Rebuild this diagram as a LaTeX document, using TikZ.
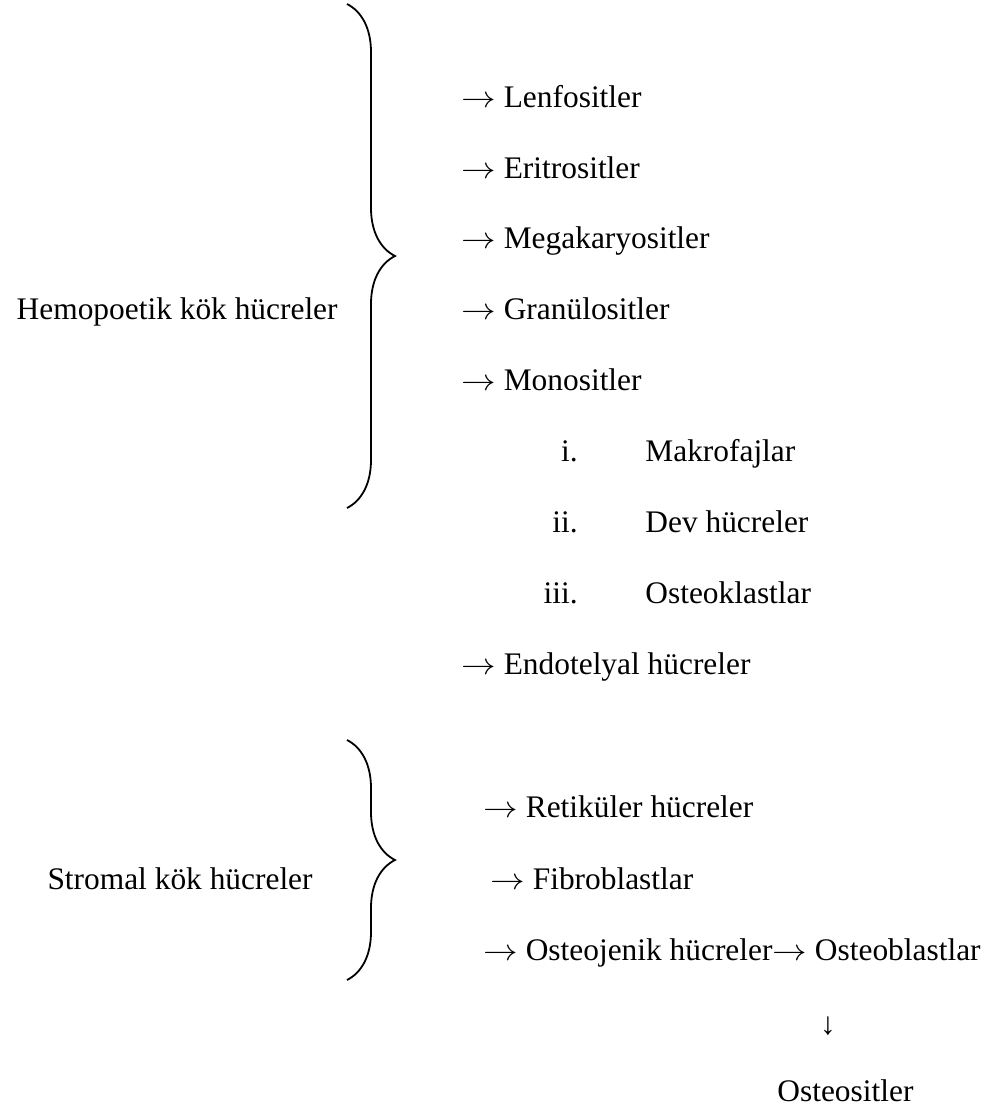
\documentclass[tikz,border=0pt]{standalone}
\usepackage{graphicx}
\usepackage{fontspec}
\setmainfont{Liberation Serif}
\usetikzlibrary{decorations.pathreplacing}
\newcommand{\ra}{\scalebox{1.2}[1.05]{$\rightarrow$}}

\begin{document}
\begin{tikzpicture}[
  x=0.5pt, y=-0.5pt,
  font=\fontsize{15.7pt}{19pt}\selectfont,
  item/.style  = {inner sep=0pt, anchor=base west},
  src/.style   = {inner sep=0pt, anchor=base east},
  num/.style   = {inner sep=0pt, anchor=base east},
  brc/.style   = {decorate, decoration={brace, amplitude=24pt},
                  line width=0.9pt}
]
\useasboundingbox (0,0) rectangle (990,1110);

% hemopoetic group
\node[src] (hemo) at (338,319) {Hemopoetik kök hücreler};
\coordinate (hemotop) at (347,4);
\coordinate (hemobot) at (347,508);
\draw[brc] (hemotop) -- (hemobot);

\node[item] (lenf) at (461,107) {\ra{} Lenfositler};
\node[item] (erit) at (461,178) {\ra{} Eritrositler};
\node[item] (mega) at (461,248) {\ra{} Megakaryositler};
\node[item] (gran) at (461,319) {\ra{} Granülositler};
\node[item] (mono) at (461,390) {\ra{} Monositler};

\node[num]  (n1) at (578,461) {i.};
\node[item] (makro) at (645,461) {Makrofajlar};
\node[num]  (n2) at (578,532) {ii.};
\node[item] (dev) at (645,532) {Dev hücreler};
\node[num]  (n3) at (578,603) {iii.};
\node[item] (oklast) at (645,603) {Osteoklastlar};

\node[item] (endo) at (461,674) {\ra{} Endotelyal hücreler};

% stromal group
\node[src] (strom) at (313,889) {Stromal kök hücreler};
\coordinate (stromtop) at (347,740);
\coordinate (strombot) at (347,980);
\draw[brc] (stromtop) -- (strombot);

\node[item] (retik) at (483,817) {\ra{} Retiküler hücreler};
\node[item] (fibro) at (490,889) {\ra{} Fibroblastlar};
\node[item] (ojen) at (483,960) {\ra{} Osteojenik hücreler\ra{} Osteoblastlar};

\node[inner sep=0pt, anchor=base] (down) at (828,1034) {↓};
\node[item] (osit) at (777,1101) {Osteositler};

\end{tikzpicture}
\end{document}
